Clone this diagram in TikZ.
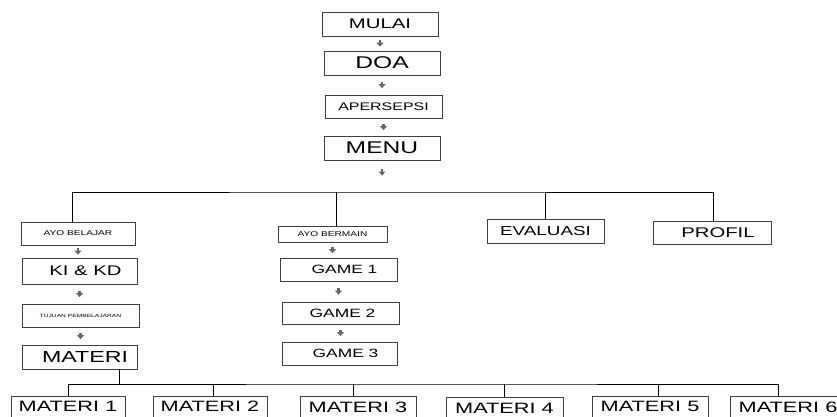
\documentclass[tikz,border=0pt]{standalone}
\usepackage{fontspec}
\setmainfont[FakeStretch=1.45]{Liberation Sans}
\usetikzlibrary{arrows.meta}

\tikzset{
  box/.style={rectangle, draw=black!75, line width=0.8pt, inner sep=0pt, minimum width=116pt, minimum height=24pt},
  fsz/.style={font=\fontsize{#1}{#1}\selectfont},
  arr/.style={line width=2.2pt, black!60, -{Triangle[length=4pt,width=7pt]}, shorten <=#1, shorten >=#1},
  tree/.style={line width=0.9pt, black}
}

\begin{document}
\begin{tikzpicture}[x=1pt, y=-1pt]
    \useasboundingbox (0,0) rectangle (837,417);

    % alur utama
    \node[box, fsz=14] (mulai) at (380,24) {MULAI};
    \node[box, fsz=17] (doa) at (382,63) {DOA};
    \node[box, fsz=11, minimum width=117pt, minimum height=23pt] (apersepsi) at (383.5,106.5) {APERSEPSI};
    \node[box, fsz=17] (menu) at (382,148) {MENU};
    \coordinate (bus) at (383,192);

    % cabang menu
    \node[box, fsz=7, minimum width=114pt, minimum height=23pt] (belajar) at (78,233.5) {AYO BELAJAR};
    \node[box, fsz=14, minimum width=115pt, minimum height=26pt] (kikd) at (79.5,271) {\hspace*{12pt}KI \& KD};
    \node[box, fsz=4.6, minimum width=117pt, minimum height=23pt] (tujuan) at (80.5,315.5) {TUJUAN PEMBELAJARAN};
    \node[box, fsz=16, minimum width=115pt] (materi) at (79.5,357) {\hspace*{11pt}MATERI};

    \node[box, fsz=7, minimum width=109pt, minimum height=16pt] (bermain) at (332.5,234.5) {AYO BERMAIN};
    \node[box, fsz=12, minimum width=117pt, minimum height=23pt] (game1) at (338.5,269.5) {\hspace*{12pt}GAME 1};
    \node[box, fsz=12, minimum width=117pt, minimum height=22pt] (game2) at (340.5,313) {\hspace*{4pt}GAME 2};
    \node[box, fsz=12, minimum width=115pt, minimum height=23pt] (game3) at (339.5,353.5) {\hspace*{12pt}GAME 3};

    \node[box, fsz=13, minimum width=117pt] (evaluasi) at (545.5,231) {EVALUASI};
    \node[box, fsz=14, minimum width=118pt, minimum height=23pt] (profil) at (712,232.5) {\hspace*{12pt}PROFIL};

    % daftar materi
    \coordinate (bus2) at (420,384);
    \node[box, fsz=15, minimum width=114pt, minimum height=21pt] (mat1) at (68,406.5) {MATERI 1};
    \node[box, fsz=15, minimum width=114pt, minimum height=21pt] (mat2) at (210,406.5) {MATERI 2};
    \node[box, fsz=15, minimum width=116pt, minimum height=21pt] (mat3) at (358,407) {MATERI 3};
    \node[box, fsz=15, minimum width=117pt, minimum height=21pt] (mat4) at (504.5,408) {MATERI 4};
    \node[box, fsz=15, minimum width=116pt, minimum height=21pt] (mat5) at (650,406.5) {MATERI 5};
    \node[box, fsz=15, minimum width=116pt, minimum height=21pt] (mat6) at (788,407) {MATERI 6};

    % panah
    \draw[arr=4pt] (mulai.south) -- (mulai.south |- doa.north);
    \draw[arr=6.5pt] (doa.south) -- (doa.south |- apersepsi.north);
    \draw[arr=5.5pt] (apersepsi.south) -- (apersepsi.south |- menu.north);
    \draw[arr=8.5pt, shorten >=16.5pt] (menu.south) -- (menu.south |- bus);

    \draw[arr=3pt] (belajar.south) -- (belajar.south |- kikd.north);
    \draw[arr=6.5pt] (kikd.south) -- (kikd.south |- tujuan.north);
    \draw[arr=5.5pt] (tujuan.south) -- (tujuan.south |- materi.north);

    \draw[arr=4.5pt] (bermain.south) -- (bermain.south |- game1.north);
    \draw[arr=7pt] (game1.south) -- (game1.south |- game2.north);
    \draw[arr=5.5pt] (game2.south) -- (game2.south |- game3.north);

    % garis cabang
    \draw[tree] ([xshift=-6pt]belajar.north) |- (bus) -| ([xshift=1pt]profil.north);
    \draw[tree] ([xshift=3.5pt]bermain.north) -- ([xshift=3.5pt]bermain.north |- bus);
    \draw[tree] (evaluasi.north) -- (evaluasi.north |- bus);

    \draw[tree] ([xshift=39.5pt]materi.south) -- ([xshift=39.5pt]materi.south |- bus2);
    \draw[tree] (mat1.north) |- (bus2) -| ([xshift=-10pt]mat6.north);
    \draw[tree] ([xshift=3pt]mat2.north) -- ([xshift=3pt]mat2.north |- bus2);
    \draw[tree] ([xshift=-5pt]mat3.north) -- ([xshift=-5pt]mat3.north |- bus2);
    \draw[tree] (mat4.north) -- (mat4.north |- bus2);
    \draw[tree] ([xshift=8pt]mat5.north) -- ([xshift=8pt]mat5.north |- bus2);
\end{tikzpicture}
\end{document}
